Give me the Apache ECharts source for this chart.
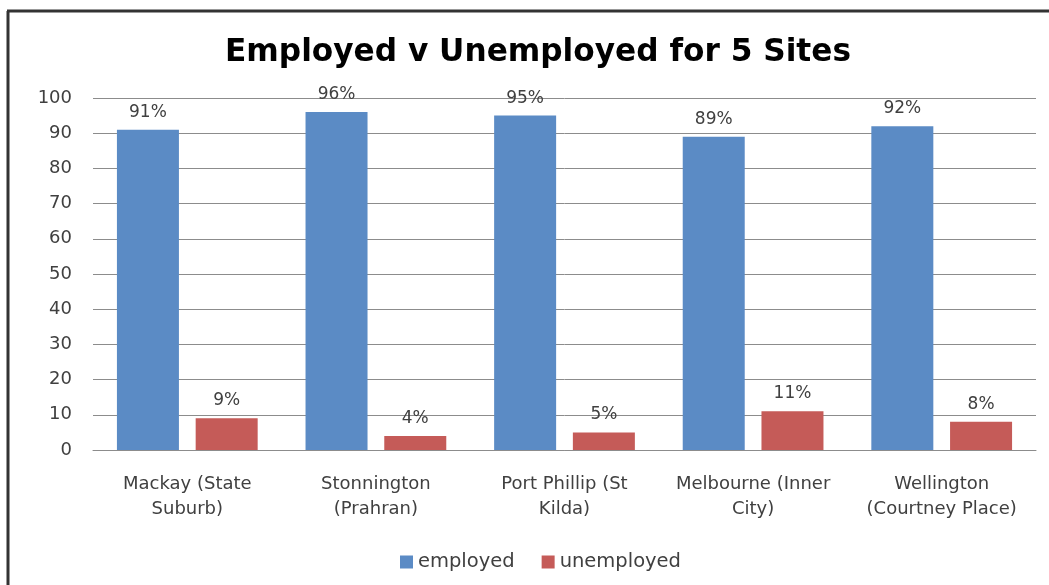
<!DOCTYPE html>
<html>
<head>
<meta charset="utf-8">
<script src="https://cdn.jsdelivr.net/npm/echarts@6/dist/echarts.min.js"></script>
<style>
html,body{margin:0;padding:0;background:#fff;}
#c{width:1049px;height:585px;}
</style>
</head>
<body>
<div id="c"></div>
<script>
const categories = ["Mackay (State\nSuburb)", "Stonnington\n(Prahran)", "Port Phillip (St\nKilda)", "Melbourne (Inner\nCity)", "Wellington\n(Courtney Place)"];
const employed = [91, 96, 95, 89, 92];
const unemployed = [9, 4, 5, 11, 8];
const seriesNames = ["employed", "unemployed"];
const titleText = "Employed v Unemployed for 5 Sites";

const FONT = "'DejaVu Sans', sans-serif";
const chart = echarts.init(document.getElementById('c'), null, {renderer: 'canvas'});
const labelStyle = {
  show: true, position: 'top', distance: 9,
  formatter: p => p.value + '%',
  fontFamily: FONT, fontSize: 17, color: '#404040'
};
chart.setOption({
  animation: false,
  backgroundColor: '#fff',
  title: {
    text: titleText, left: 533, top: 32, textAlign: 'center',
    textStyle: {fontFamily: FONT, fontWeight: 'bold', fontSize: 31.2, color: '#000'}
  },
  grid: {left: 93, right: 13, top: 98, bottom: 135, containLabel: false},
  legend: {
    data: seriesNames, bottom: 8, left: 395, icon: 'rect',
    itemWidth: 13, itemHeight: 13, itemGap: 27,
    textStyle: {fontFamily: FONT, fontSize: 19.5, color: '#404040'}
  },
  xAxis: {
    type: 'category', data: categories,
    axisLine: {show: true, lineStyle: {color: '#8c8c8c', width: 1}},
    axisTick: {show: false},
    axisLabel: {fontFamily: FONT, fontSize: 18, color: '#404040', margin: 22, lineHeight: 25, interval: 0}
  },
  yAxis: {
    type: 'value', min: 0, max: 100, interval: 10,
    axisLine: {show: false}, axisTick: {show: false},
    splitLine: {lineStyle: {color: '#8c8c8c', width: 1}},
    axisLabel: {fontFamily: FONT, fontSize: 18, color: '#404040', margin: 21}
  },
  series: [
    {name: seriesNames[0], type: 'bar', data: employed, barWidth: 62, barGap: '27%',
     itemStyle: {color: '#5B8BC5'}, label: labelStyle},
    {name: seriesNames[1], type: 'bar', data: unemployed, barWidth: 62,
     itemStyle: {color: '#C55B58'}, label: labelStyle}
  ],
  graphic: [
    {type: 'line', shape: {x1: 8, y1: 11, x2: 8, y2: 585}, style: {stroke: '#333', lineWidth: 3}, z: 100},
    {type: 'line', shape: {x1: 7, y1: 11, x2: 1049, y2: 11}, style: {stroke: '#333', lineWidth: 3}, z: 100}
  ]
});
</script>
</body>
</html>
